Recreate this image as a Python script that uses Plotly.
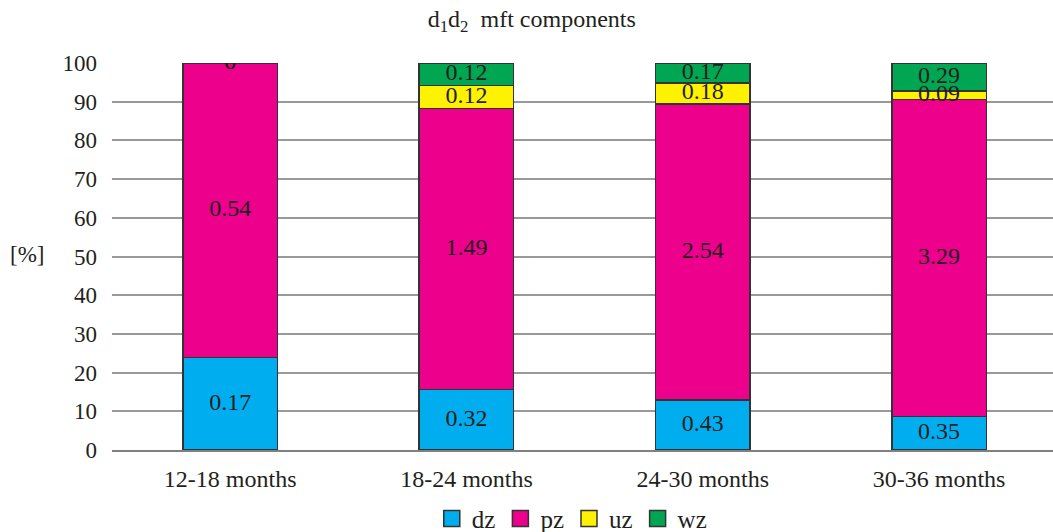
import plotly.graph_objects as go

# Age groups and the four mft components (absolute values)
categories = ["12-18 months", "18-24 months", "24-30 months", "30-36 months"]
components = ["dz", "pz", "uz", "wz"]
dz = [0.17, 0.32, 0.43, 0.35]
pz = [0.54, 1.49, 2.54, 3.29]
uz = [0.0, 0.12, 0.18, 0.09]
wz = [0.0, 0.12, 0.17, 0.29]
y_ticks = [0, 10, 20, 30, 40, 50, 60, 70, 80, 90, 100]

series = [dz, pz, uz, wz]
colors = ["#00AEEF", "#EC008C", "#FFF200", "#00A651"]
FONT = "Liberation Serif"
TXT = "#231F20"
EDGE = "#333333"

fig = go.Figure()
for name, vals, col in zip(components, series, colors):
    fig.add_trace(go.Bar(
        x=categories, y=vals, name=name, legendgroup=name, showlegend=False,
        marker=dict(color=col, line=dict(color=EDGE, width=1.5)),
        hoverinfo="skip",
    ))

# Value labels placed at the middle of each stacked segment (in percent)
totals = [sum(s[i] for s in series) for i in range(len(categories))]
for k, vals in enumerate(series):
    xs, ys, texts = [], [], []
    for i, cat in enumerate(categories):
        below = sum(series[j][i] for j in range(k))
        mid = (below + vals[i] / 2) / totals[i] * 100
        xs.append(cat)
        ys.append(mid)
        texts.append(f"{vals[i]:g}")
    fig.add_trace(go.Scatter(
        x=xs, y=ys, text=texts, mode="text", showlegend=False,
        textfont=dict(family=FONT, size=24, color=TXT),
        textposition="middle center", hoverinfo="skip",
    ))

# Legend entries with larger outlined square swatches
for name, col in zip(components, colors):
    fig.add_trace(go.Scatter(
        x=[None], y=[None], mode="markers", name=name, legendgroup=name,
        marker=dict(symbol="square", size=17, color=col,
                    line=dict(color=EDGE, width=1.5)),
    ))

fig.update_layout(
    width=1053, height=532,
    barmode="stack", barnorm="percent", bargap=0.6,
    plot_bgcolor="white", paper_bgcolor="white",
    margin=dict(l=112, r=0, t=63, b=82, autoexpand=False),
    font=dict(family=FONT, size=22, color=TXT),
    title=dict(text="d<sub>1</sub>d<sub>2</sub>  mft components",
               x=0.505, xanchor="center", y=0.965, yanchor="middle",
               font=dict(family=FONT, size=24, color=TXT)),
    legend=dict(orientation="h", traceorder="normal",
                x=0.543, xanchor="center", xref="container",
                y=0.025, yanchor="middle", yref="container",
                font=dict(family=FONT, size=25, color=TXT),
                itemwidth=30, tracegroupgap=0),
    showlegend=True,
)
fig.update_xaxes(
    range=[-0.5, 3.482], showgrid=False, showline=True,
    linecolor="#808080", linewidth=2, ticks="",
    tickfont=dict(family=FONT, size=24, color=TXT), ticklabelstandoff=6,
)
fig.update_yaxes(
    range=[0, 100], tickvals=y_ticks, showgrid=True,
    gridcolor="#999999", gridwidth=1.5, zeroline=False,
    showline=False, ticks="",
    tickfont=dict(family=FONT, size=23, color=TXT), ticklabelstandoff=14,
)
fig.add_annotation(text="[%]", xref="paper", yref="paper", x=-0.09, y=0.505,
                   showarrow=False, xanchor="center", yanchor="middle",
                   font=dict(family=FONT, size=23, color=TXT))

fig.write_html("out.html")
